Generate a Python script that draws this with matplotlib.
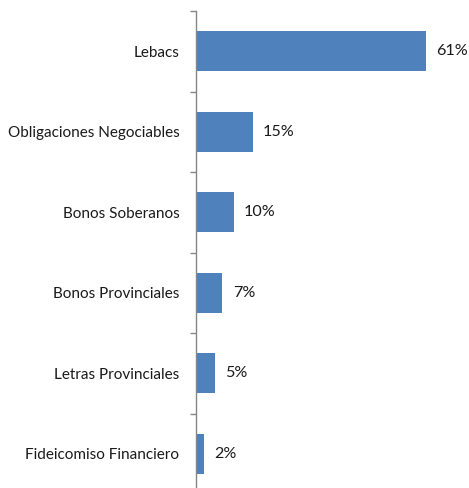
import matplotlib.pyplot as plt
from matplotlib.ticker import FixedLocator

# instrument categories and their share (%)
categories = ["Lebacs", "Obligaciones Negociables", "Bonos Soberanos",
              "Bonos Provinciales", "Letras Provinciales", "Fideicomiso Financiero"]
shares = [61, 15, 10, 7, 5, 2]
share_labels = ["61%", "15%", "10%", "7%", "5%", "2%"]

plt.rcParams['font.family'] = ['Lato', 'DejaVu Sans']

fig = plt.figure(figsize=(4.69, 4.88), dpi=100)
# axes runs off the bottom of the canvas, like the cropped original
ax = fig.add_axes([196 / 469, 1 - 494 / 488, 1 - 196 / 469, (494 - 11) / 488])

pos = list(range(len(categories)))
ax.barh(pos, shares, height=0.5, color="#4F81BD")
for p, v, lab in zip(pos, shares, share_labels):
    ax.annotate(lab, (v, p), xytext=(7.5, 0), textcoords="offset points",
                va="center", ha="left", fontsize=11.6, color="#1a1a1a")

ax.set_xlim(0, 61 * 273 / 230)
ax.set_ylim(len(categories) - 0.5, -0.5)

for s in ["top", "right", "bottom"]:
    ax.spines[s].set_visible(False)
ax.spines["left"].set_color("#868686")
ax.spines["left"].set_linewidth(1.0)

ax.set_xticks([])
# boundary ticks as marks, category names on the centres
ax.yaxis.set_major_locator(FixedLocator([p - 0.5 for p in pos] + [len(pos) - 0.5]))
ax.yaxis.set_major_formatter(plt.NullFormatter())
ax.set_yticks(pos, minor=True)
ax.set_yticklabels(categories, minor=True, fontsize=11, color="#1a1a1a")
ax.tick_params(axis="y", which="major", length=4, width=1.0, color="#868686")
ax.tick_params(axis="y", which="minor", length=0, pad=12)

fig.savefig("out.png", dpi=100)
